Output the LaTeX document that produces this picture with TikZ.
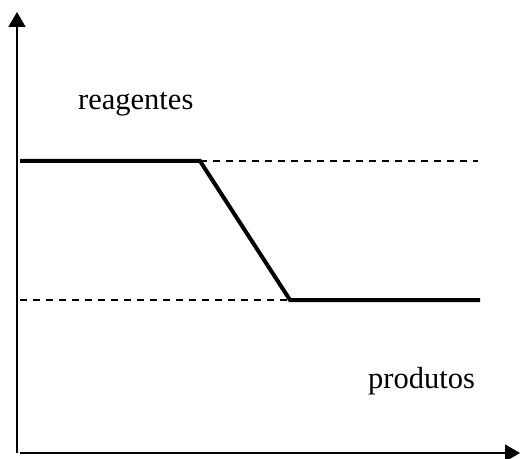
\documentclass[tikz,border=0pt]{standalone}
\usepackage{fontspec}
\setmainfont{Liberation Serif}
\usetikzlibrary{arrows.meta}
\begin{document}
\begin{tikzpicture}[x=1pt,y=1pt,
  axis/.style={line width=1.5pt,-{Triangle[length=15pt,width=17pt]}},
  level/.style={line width=4pt},
  guide/.style={line width=1.2pt,dash pattern=on 7pt off 6pt},
  lbl/.style={font=\fontsize{30.5}{34}\selectfont,inner sep=0pt,anchor=base west}]
\useasboundingbox (0,0) rectangle (521,458);
% axes
\coordinate (o) at (17,5);
\coordinate (ytop) at (17,446);
\coordinate (xend) at (520,5);
\draw[axis] (o) -- (ytop);
\draw[axis] (20,5) -- (xend);
% energy profile
\coordinate (r0) at (20,297);
\coordinate (r1) at (200,297);
\coordinate (p0) at (290,158);
\coordinate (p1) at (480,158);
\coordinate (rg) at (478,297);
\coordinate (pg) at (20,158);
\draw[guide] (r1) -- (rg);
\draw[guide] (pg) -- (p0);
\draw[level,line join=miter] (r0) -- (r1) -- (p0) -- (p1);
% labels
\node[lbl] (reag) at (78,348) {reagentes};
\node[lbl] (prod) at (368,70) {produtos};
\end{tikzpicture}
\end{document}
